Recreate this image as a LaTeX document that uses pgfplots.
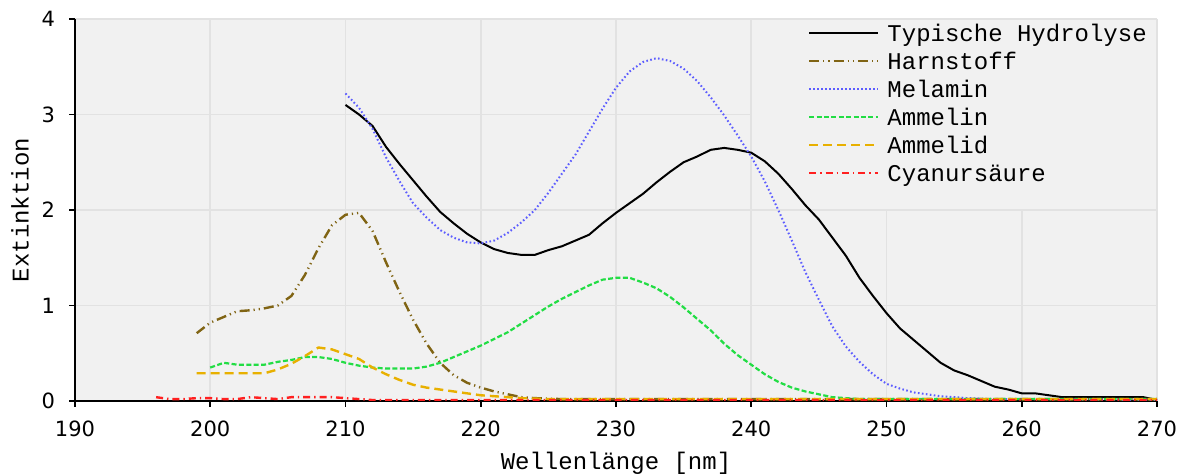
\documentclass[border=0pt]{standalone}
\usepackage{pgfplots}
\pgfplotsset{compat=1.18}
\usepackage{fontspec}
\setmainfont{Liberation Mono}
\newfontfamily\dejavu{DejaVu Sans}
\definecolor{bgcol}{HTML}{F1F1F1}
\definecolor{gridcol}{HTML}{E2E2E2}
\definecolor{harn}{HTML}{806414}
\definecolor{mel}{HTML}{5C5CFF}
\definecolor{amn}{HTML}{22DD44}
\definecolor{amd}{HTML}{E8B000}
\definecolor{cya}{HTML}{FF2020}
\begin{document}
\begin{tikzpicture}
\begin{axis}[
  set layers,
  scale only axis, width=541pt, height=191pt,
  xmin=190, xmax=270, ymin=0, ymax=4,
  xtick={190,200,...,270}, ytick={0,1,2,3,4},
  axis x line*=bottom, axis y line*=left,
  axis line style={line width=1pt, black},
  tick align=outside, major tick length=3pt,
  tick style={black, line width=0.8pt},
  grid=major, major grid style={gridcol, line width=0.8pt},
  axis background/.style={fill=bgcol},
  ticklabel style={font=\dejavu\fontsize{10.5}{12}\selectfont},
  xticklabel style={yshift=-3.5pt},
  yticklabel style={xshift=-3.5pt},
  /pgf/number format/assume math mode=true,
  xlabel={\raisebox{0pt}[\height][2pt]{Wellenlänge [nm]}},
  ylabel={Extinktion},
  label style={font=\fontsize{12}{14}\selectfont},
  xlabel style={at={(axis description cs:0.5,0)}, anchor=base, yshift=-34.5pt, inner sep=0pt},
  ylabel style={at={(axis description cs:-0.0508,0.5)}, anchor=center},
  legend cell align=left,
  legend style={at={(rel axis cs:0.6775,1)}, anchor=north west, draw=none, fill=none,
    inner sep=0pt, outer sep=0pt, row sep=0pt, column sep=4pt,
    font=\fontsize{12}{14}\selectfont,
    nodes={inner sep=0pt, text height=11.35pt, text depth=2.65pt}},
  legend image code/.code={\draw[#1] (0pt,-0.1pt) -- (34.5pt,-0.1pt);},
]
\begin{pgfonlayer}{pre main}
\fill[bgcol] ([xshift=0.5pt,yshift=0.5pt]axis cs:240,2) rectangle ([xshift=-0.5pt,yshift=-0.5pt]axis cs:270,4);
\end{pgfonlayer}
\addplot[black, line width=1pt] coordinates {
(210,3.10)(211,3.00)(212,2.88)(213,2.66)(214,2.48)(215,2.31)(216,2.14)(217,1.98)
(218,1.86)(219,1.75)(220,1.66)(221,1.59)(222,1.55)(223,1.53)(224,1.53)(225,1.58)
(226,1.62)(227,1.68)(228,1.74)(229,1.86)(230,1.97)(231,2.07)(232,2.17)(233,2.29)
(234,2.40)(235,2.50)(236,2.56)(237,2.63)(238,2.65)(239,2.63)(240,2.60)(241,2.51)
(242,2.38)(243,2.22)(244,2.05)(245,1.90)(246,1.71)(247,1.52)(248,1.29)(249,1.10)
(250,0.92)(251,0.76)(252,0.64)(253,0.52)(254,0.40)(255,0.32)(256,0.27)(257,0.21)
(258,0.15)(259,0.12)(260,0.08)(261,0.08)(262,0.06)(263,0.04)(265,0.04)(268,0.04)
(269,0.04)(270,0.01)};
\addlegendentry{Typische Hydrolyse}
\addplot[harn, line width=1.2pt, dash pattern=on 5pt off 2pt on 0.6pt off 2pt on 0.6pt off 2pt] coordinates {
(199,0.71)(200,0.82)(201,0.88)(202,0.94)(203,0.95)(204,0.97)(205,1.00)(206,1.10)
(207,1.32)(208,1.60)(209,1.84)(210,1.95)(211,1.97)(212,1.78)(213,1.45)(214,1.14)
(215,0.85)(216,0.60)(217,0.40)(218,0.27)(219,0.19)(220,0.14)(221,0.10)(222,0.07)
(223,0.04)(224,0.03)(226,0.02)(270,0.02)};
\addlegendentry{Harnstoff}
\addplot[mel, line width=1pt, dash pattern=on 0.8pt off 1.2pt] coordinates {
(210,3.22)(211,3.07)(212,2.85)(213,2.55)(214,2.30)(215,2.07)(216,1.92)(217,1.79)
(218,1.71)(219,1.66)(220,1.65)(221,1.68)(222,1.76)(223,1.87)(224,2.00)(225,2.18)
(226,2.38)(227,2.58)(228,2.82)(229,3.06)(230,3.28)(231,3.45)(232,3.55)(233,3.59)
(234,3.56)(235,3.48)(236,3.35)(237,3.18)(238,2.99)(239,2.78)(240,2.56)(241,2.30)
(242,2.00)(243,1.68)(244,1.35)(245,1.06)(246,0.78)(247,0.57)(248,0.41)(249,0.28)
(250,0.18)(251,0.13)(252,0.09)(253,0.07)(254,0.05)(255,0.04)(256,0.03)(258,0.02)
(260,0.02)(270,0.01)};
\addlegendentry{Melamin}
\addplot[amn, line width=1.1pt, dash pattern=on 2.5pt off 1.2pt] coordinates {
(200,0.35)(201,0.40)(202,0.38)(203,0.38)(204,0.38)(205,0.41)(206,0.43)(207,0.46)
(208,0.46)(209,0.44)(210,0.40)(211,0.37)(212,0.35)(213,0.34)(214,0.34)(215,0.34)
(216,0.36)(217,0.40)(218,0.46)(219,0.52)(220,0.58)(221,0.65)(222,0.72)(223,0.81)
(224,0.90)(225,0.99)(226,1.07)(227,1.14)(228,1.21)(229,1.27)(230,1.29)(231,1.29)
(232,1.24)(233,1.18)(234,1.09)(235,0.98)(236,0.86)(237,0.74)(238,0.60)(239,0.48)
(240,0.38)(241,0.28)(242,0.20)(243,0.14)(244,0.10)(245,0.07)(246,0.04)(247,0.03)
(248,0.02)(270,0.02)};
\addlegendentry{Ammelin}
\addplot[amd, line width=1.2pt, dash pattern=on 4.5pt off 2.5pt] coordinates {
(199,0.29)(200,0.29)(201,0.29)(202,0.29)(203,0.29)(204,0.29)(205,0.33)(206,0.39)
(207,0.47)(208,0.56)(209,0.54)(210,0.49)(211,0.44)(212,0.35)(213,0.28)(214,0.22)
(215,0.17)(216,0.14)(217,0.12)(218,0.10)(219,0.08)(220,0.06)(221,0.05)(222,0.04)
(223,0.03)(225,0.02)(270,0.02)};
\addlegendentry{Ammelid}
\addplot[cya, line width=1.2pt, dash pattern=on 3.5pt off 2pt on 0.7pt off 2pt] coordinates {
(196,0.04)(197,0.02)(198,0.02)(199,0.03)(200,0.03)(201,0.02)(202,0.02)(203,0.04)
(204,0.03)(205,0.02)(206,0.04)(207,0.04)(208,0.04)(209,0.04)(210,0.03)(211,0.02)
(212,0.01)(270,0.01)};
\addlegendentry{Cyanursäure}
\end{axis}
\pgfresetboundingbox
\path[use as bounding box] (-37.5pt,-36.5pt) rectangle (555.5pt,200.5pt);
\end{tikzpicture}
\end{document}
